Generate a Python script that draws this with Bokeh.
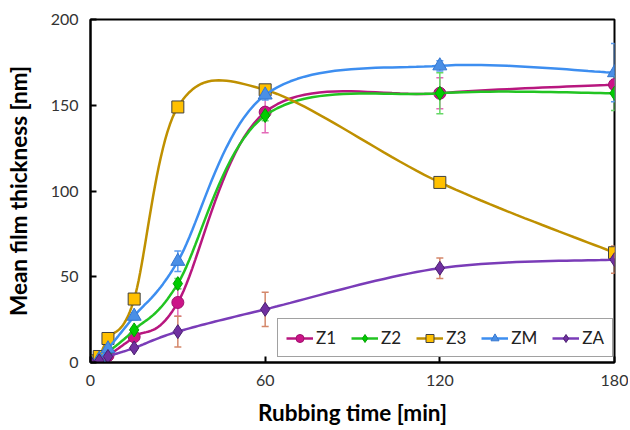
import numpy as np
from bokeh.plotting import figure
from bokeh.models import (ColumnDataSource, Whisker, TeeHead, Legend, LegendItem,
                          Range1d, FixedTicker)
from bokeh.embed import file_html
from bokeh.resources import INLINE

# ---- data ----
time_min = [0, 3, 6, 15, 30, 60, 120, 180]
series_names = ["Z1", "Z2", "Z3", "ZM", "ZA"]
z1 = [0, 1, 4, 15, 35, 146, 157, 162]
z2 = [0, 1.5, 6, 19, 46, 144, 157, 157]
z3 = [1, 3.5, 14, 37, 149, 159, 105, 64]
zm = [0, 2, 8, 27, 59, 156, 173, 169]
za = [0, 1, 3.5, 8.5, 18, 31, 55, 60]
z1_err = [0, 0, 0, 1, 8, 12, 9, 3]
z2_err = [0, 0, 0, 1, 3, 3, 12, 10]
z3_err = [0, 0, 0, 1, 2, 3, 2, 3]
zm_err = [0, 0, 0, 2, 6, 3, 3, 17]
za_err = [0, 0, 0, 1, 9, 10, 6, 8]
x_ticks = [0, 60, 120, 180]
y_ticks = [0, 50, 100, 150, 200]

values = [z1, z2, z3, zm, za]
errors = [z1_err, z2_err, z3_err, zm_err, za_err]
line_colors = ["#B8177F", "#22C422", "#BF9000", "#3D8EF0", "#7A3CB8"]
fill_colors = ["#CC1488", "#00CC00", "#FFC000", "#4A8FE6", "#7030A0"]
edge_colors = ["#A0106E", "#00A000", "#404040", "#3577D0", "#4A2070"]
err_colors = ["#E36AB8", "#66D866", "#C8A040", "#5A9BEF", "#D4876A"]
markers = ["circle", "diamond", "square", "triangle", "diamond"]
sizes = [12, 14, 12, 14, 14]


def smooth(x, y, n=24):
    """Excel-like smoothed line (Catmull-Rom Bezier) through the data points."""
    pts = np.column_stack([x, y]).astype(float)
    out = []
    for i in range(len(pts) - 1):
        p0 = pts[i - 1] if i > 0 else pts[i]
        p1, p2 = pts[i], pts[i + 1]
        p3 = pts[i + 2] if i + 2 < len(pts) else pts[i + 1]
        c1 = p1 + (p2 - p0) / 6.0
        c2 = p2 - (p3 - p1) / 6.0
        t = np.linspace(0, 1, n)[:, None]
        seg = ((1 - t) ** 3) * p1 + 3 * ((1 - t) ** 2) * t * c1 + 3 * (1 - t) * t ** 2 * c2 + t ** 3 * p2
        out.append(seg if i == 0 else seg[1:])
    out = np.vstack(out)
    return out[:, 0], out[:, 1]


p = figure(width=628, height=428, output_backend="svg", toolbar_location=None,
           x_range=Range1d(0, 180), y_range=Range1d(0, 200),
           min_border_left=90, min_border_right=14, min_border_top=19, min_border_bottom=64)
p.xgrid.visible = False
p.ygrid.visible = False
p.outline_line_color = "black"
p.outline_line_width = 2
p.background_fill_color = "white"
p.border_fill_color = "white"

font = "Lato"
for ax in (p.xaxis[0], p.yaxis[0]):
    ax.axis_line_color = "black"
    ax.axis_line_width = 2
    ax.major_tick_in = 6
    ax.major_tick_out = 0
    ax.major_tick_line_width = 2
    ax.major_tick_line_color = "black"
    ax.minor_tick_in = 0
    ax.minor_tick_out = 0
    ax.major_label_text_font = font
    ax.major_label_text_font_size = "16px"
    ax.major_label_text_color = "#333333"
    ax.axis_label_text_font = font
    ax.axis_label_text_font_style = "bold"
    ax.axis_label_text_font_size = "22.5px"
    ax.axis_label_text_color = "black"
    ax.major_label_standoff = 12

p.xaxis.ticker = FixedTicker(ticks=x_ticks)
p.yaxis.ticker = FixedTicker(ticks=y_ticks)
p.xaxis.axis_label = "Rubbing time [min]"
p.yaxis.axis_label = "Mean film thickness [nm]"
p.xaxis.axis_label_standoff = 10
p.yaxis.axis_label_standoff = 16

items = []
for name, v, e, lc, fc, ec, erc, mk, sz in zip(series_names, values, errors, line_colors,
                                                fill_colors, edge_colors, err_colors, markers, sizes):
    v = np.array(v, dtype=float)
    e = np.array(e, dtype=float)
    src = ColumnDataSource(dict(x=time_min, y=v, up=v + e, lo=v - e))
    sx, sy = smooth(time_min, v)
    lr = p.line(sx, sy, line_color=lc, line_width=2.5)
    w = Whisker(source=src, base="x", upper="up", lower="lo", line_color=erc, line_width=1.5,
                upper_head=TeeHead(size=7, line_color=erc, line_width=1.5),
                lower_head=TeeHead(size=7, line_color=erc, line_width=1.5))
    p.add_layout(w)
    sr = p.scatter("x", "y", source=src, marker=mk, size=sz, fill_color=fc,
                   line_color=ec, line_width=1)
    items.append(LegendItem(label=name, renderers=[lr, sr]))

legend = Legend(items=items, orientation="horizontal", location=(187, 5),
                label_text_font=font, label_text_font_size="17px", label_text_color="#222222",
                glyph_width=27, glyph_height=20, label_standoff=3, spacing=15, padding=8,
                border_line_color="#444444", border_line_width=1.5,
                background_fill_color="white", background_fill_alpha=1.0)
p.add_layout(legend, "center")

open("out.html", "w").write(file_html(p, INLINE))
